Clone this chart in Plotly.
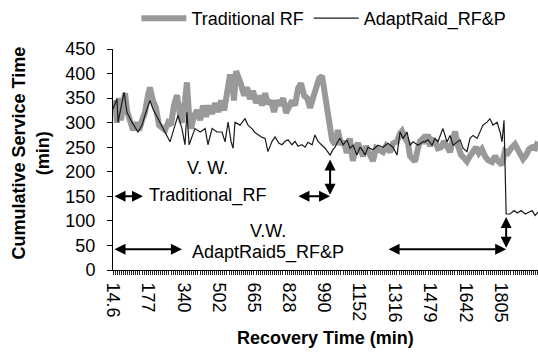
import plotly.graph_objects as go

# ---------------- data ----------------
trad_time = [14.6, 24, 33, 42, 51, 61, 70, 79, 93, 107, 121, 135, 149, 162, 176, 185, 199, 213, 227, 241,
             255, 269, 282, 296, 310, 324, 333, 347, 356, 366, 375, 389, 403, 417, 430, 444, 458, 472, 486, 500,
             514, 528, 537, 546, 555, 564, 573, 583, 592, 606, 620, 633, 647, 661, 675, 689, 703, 717, 730, 744,
             758, 772, 786, 800, 814, 827, 841, 855, 869, 883, 897, 911, 925, 938, 952, 966, 980, 989, 999, 1007,
             1017, 1026, 1040, 1053, 1067, 1081, 1094, 1108, 1122, 1135, 1146, 1160, 1169, 1183, 1197, 1215, 1229,
             1243, 1261, 1275, 1294, 1308, 1326, 1340, 1349, 1363, 1377, 1386, 1400, 1409, 1423, 1432, 1446, 1455,
             1469, 1478, 1488, 1501, 1515, 1529, 1543, 1557, 1571, 1585, 1594, 1608, 1622, 1636, 1649, 1663, 1677,
             1691, 1704, 1718, 1732, 1746, 1765, 1779, 1792, 1810, 1824, 1838, 1853, 1871, 1885, 1894, 1908, 1922,
             1936, 1950, 1964, 1977]
trad_value = [321, 345, 300, 350, 305, 335, 360, 325, 300, 285, 300, 285, 305, 320, 355, 372, 345, 330, 295, 290,
              285, 300, 295, 335, 356, 315, 300, 345, 382, 315, 288, 315, 325, 305, 335, 312, 335, 318, 340, 322,
              345, 325, 350, 385, 398, 385, 345, 405, 395, 378, 355, 372, 348, 365, 340, 355, 335, 360, 338, 345,
              322, 345, 335, 350, 320, 330, 345, 335, 370, 380, 355, 350, 330, 350, 368, 390, 395, 370, 345, 318,
              290, 265, 255, 285, 255, 262, 238, 268, 222, 250, 258, 238, 232, 252, 236, 222, 248,
              245, 240, 252, 240, 258, 262, 278, 283, 268, 258, 232, 225, 221, 248, 262, 268, 258,
              276, 252, 265, 262, 248, 250, 262, 252, 240, 268, 282, 252, 234, 228, 221, 232, 240,
              250, 238, 246, 232, 224, 220, 232, 222, 214, 242, 238, 248, 256, 244, 234, 226, 234,
              246, 250, 248, 261]

adapt_time = [14.6, 33, 38, 56, 66, 79, 102, 130, 149, 162, 185, 199, 222, 246, 278, 301, 315, 333, 347, 356,
              366, 393, 417, 440, 453, 472, 495, 518, 532, 546, 560, 569, 578, 601, 624, 638, 656, 670, 684, 703,
              717, 730, 749, 763, 781, 795, 809, 823, 841, 855, 869, 887, 901, 915, 934, 947, 961, 980, 994, 1007,
              1017, 1030, 1040, 1053, 1063, 1077, 1095, 1109, 1123, 1141, 1155, 1169, 1178, 1192, 1215, 1238, 1261,
              1284, 1307, 1326, 1340, 1354, 1372, 1386, 1400, 1423, 1446, 1455, 1469, 1488, 1501, 1515, 1534, 1538,
              1557, 1571, 1585, 1603, 1617, 1631, 1649, 1663, 1677, 1696, 1709, 1723, 1742, 1755, 1769, 1788, 1802,
              1811, 1820, 1825, 1830, 1848, 1867, 1881, 1899, 1918, 1936, 1950, 1964, 1977]
adapt_value = [328, 348, 301, 341, 362, 321, 301, 281, 295, 315, 345, 328, 308, 288, 261, 295, 315, 288, 255, 321,
               255, 288, 281, 288, 255, 288, 281, 281, 261, 301, 261, 248, 301, 295, 308, 295, 288, 280, 275, 270,
               268, 241, 262, 271, 258, 255, 262, 265, 255, 262, 252, 255, 250, 260, 255, 275, 262, 255, 248, 240,
               234, 245, 250, 262, 268, 255, 265, 248, 254, 234, 250, 242, 234, 250, 245, 254, 250,
               258, 250, 234, 281, 268, 281, 254, 261, 254, 261, 261, 265, 254, 268, 261, 281, 288,
               261, 274, 254, 261, 265, 248, 241, 268, 274, 268, 281, 295, 301, 308, 295, 301, 281,
               261, 305, 228, 114, 114, 121, 116, 121, 114, 118, 121, 111, 118]

tick_labels = ["14.6", "177", "340", "502", "665", "828", "990", "1152", "1316", "1479", "1642", "1805"]
tick_values = [14.6, 177, 340, 502, 665, 828, 990, 1152, 1316, 1479, 1642, 1805]

series_names = ["Traditional RF", "AdaptRaid_RF&P"]

# ---------------- styling ----------------
FONT = "Liberation Sans, Arial, sans-serif"
W, H = 538, 353
L, R, T, B = 113, 0, 46, 83
X_MAX = 1977
TICK_STEP = 9.57  # spacing of the dense category tick marks

# dense tick marks, with the labelled ones snapped to the label values
tick_pos, tick_txt = [], []
k = 0
while 14.6 + k * TICK_STEP <= X_MAX:
    tick_pos.append(14.6 + k * TICK_STEP)
    tick_txt.append("")
    k += 1
for v, lab in zip(tick_values, tick_labels):
    i = min(range(len(tick_pos)), key=lambda j: abs(tick_pos[j] - v))
    tick_pos[i] = v
    tick_txt[i] = lab

fig = go.Figure()
fig.add_trace(go.Scatter(x=trad_time, y=trad_value, mode="lines", name=series_names[0],
                         line=dict(color="#999999", width=6)))
fig.add_trace(go.Scatter(x=adapt_time, y=adapt_value, mode="lines", name=series_names[1],
                         line=dict(color="#1a1a1a", width=1.2)))

fig.update_layout(
    width=W, height=H,
    margin=dict(l=L, r=R, t=T, b=B, pad=0),
    paper_bgcolor="white", plot_bgcolor="white",
    font=dict(family=FONT, size=18, color="black"),
    showlegend=True,
    legend=dict(orientation="h", x=0.055, xanchor="left", y=1.14, yanchor="middle",
                font=dict(size=18), itemwidth=45, bgcolor="rgba(0,0,0,0)", tracegroupgap=0),
)

fig.update_xaxes(
    range=[14.6, X_MAX], showgrid=False, zeroline=False,
    showline=True, linecolor="black", linewidth=1,
    tickmode="array", tickvals=tick_pos, ticktext=tick_txt,
    ticks="outside", ticklen=4, tickwidth=1, tickcolor="#222222", tickangle=90,
    tickfont=dict(size=18), ticklabelstandoff=4,
)
fig.update_yaxes(
    range=[0, 450], showgrid=False, zeroline=False,
    showline=True, linecolor="black", linewidth=1,
    tickmode="linear", tick0=0, dtick=50,
    ticks="outside", ticklen=5, tickcolor="black",
    tickfont=dict(size=18), ticklabelstandoff=8,
)

# axis titles
fig.add_annotation(text="<b>Cumulative Service Time</b><br><b>(min)</b>", textangle=-90,
                   xref="paper", yref="paper", x=(31 - L) / 425, y=(270 - 152) / 224,
                   xanchor="center", yanchor="middle", showarrow=False, font=dict(size=18))
fig.add_annotation(text="<b>Recovery Time (min)</b>", xref="paper", yref="paper",
                   x=(325 - L) / 425, y=(270 - 339) / 224, xanchor="center", yanchor="middle",
                   showarrow=False, font=dict(size=18))

# V.W. labels
fig.add_annotation(text="V. W.", x=452, y=208, showarrow=False, font=dict(size=18))
fig.add_annotation(text="Traditional_RF", x=452, y=151, showarrow=False, font=dict(size=18))
fig.add_annotation(text="V.W.", x=728, y=79, showarrow=False, font=dict(size=18))
fig.add_annotation(text="AdaptRaid5_RF&P", x=728, y=36, showarrow=False, font=dict(size=18))

# double-headed arrows
arrows = [
    (14.6, 150, 153, 150),
    (864, 150, 1017, 150),
    (1017, 150, 1017, 225),
    (14.6, 42, 333, 42),
    (1280, 42, 1830, 42),
    (1830, 42, 1830, 108),
]
for x0, y0, x1, y1 in arrows:
    fig.add_annotation(x=x1, y=y1, ax=x0, ay=y0, xref="x", yref="y", axref="x", ayref="y",
                       text="", showarrow=True, arrowhead=2, arrowside="end+start",
                       arrowsize=1.1, arrowwidth=2, arrowcolor="black", standoff=0, startstandoff=0)

fig.write_html("out.html")
